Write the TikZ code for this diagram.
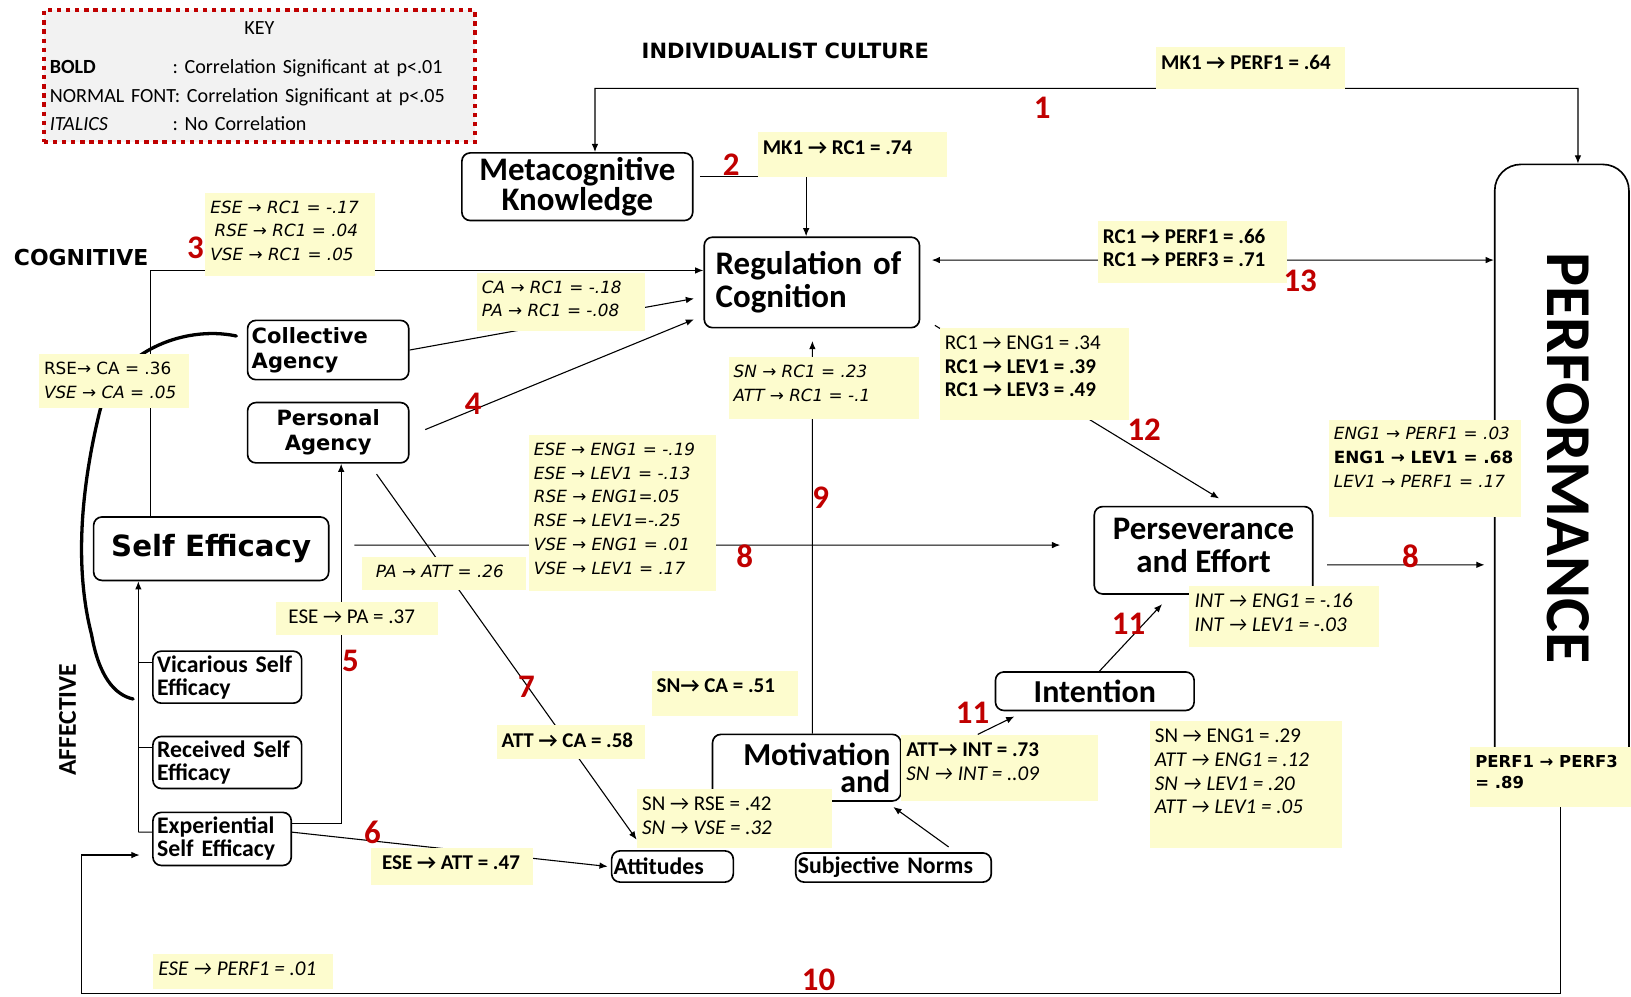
\documentclass[tikz,border=0pt]{standalone}
\usepackage{fontspec}
\setmainfont{Carlito}
\newfontfamily\verd{DejaVu Sans}
\usetikzlibrary{arrows.meta,backgrounds}

\definecolor{yfill}{RGB}{253,252,206}
\definecolor{keyfill}{RGB}{242,242,242}
\definecolor{keyred}{RGB}{192,0,0}

\newcommand{\rarr}{→}
\newcommand{\ytext}[3]{\parbox[t][#2cm][t]{#1cm}{\vspace*{0.1cm}#3}}

\tikzset{
  box/.style={draw, rounded corners=0.16cm, fill=white, line width=0.9pt, inner sep=0.08cm},
  ylab/.style={fill=yfill, anchor=north west, inner xsep=0.1cm, inner ysep=0.05cm},
  vtxt/.style={font=\verd\fontsize{9.2}{13}\selectfont},
  ctxt/.style={font=\fontsize{11.5}{13}\selectfont},
  num/.style={text=keyred, font=\bfseries\fontsize{18}{18}\selectfont},
  line/.style={line width=0.6pt},
  arr/.style={line width=0.6pt, -{Latex[length=4.5pt,width=3.6pt]}},
  arrboth/.style={line width=0.6pt, {Latex[length=4.5pt,width=3.6pt]}-{Latex[length=4.5pt,width=3.6pt]}},
  brace/.style={line width=1.8pt, line cap=round}
}

\begin{document}
\begin{tikzpicture}[x=0.02cm, y=-0.02cm]
\useasboundingbox (0,0) rectangle (1568,958);

% key and headings
\node[draw=keyred, fill=keyfill, line width=2.2pt, dash pattern=on 2.4pt off 2.6pt, anchor=north west,
  minimum width=8.3cm, minimum height=2.54cm, text width=8.06cm, inner xsep=0.12cm, align=left,
  font=\fontsize{11}{15.6}\selectfont] (key) at (40,8)
  {\makebox[8.06cm]{KEY}\\[6pt]
   \makebox[2.36cm][l]{\textbf{BOLD}}:\ Correlation Significant at p<.01\\
   NORMAL FONT: Correlation Significant at p<.05\\
   \makebox[2.36cm][l]{\textit{ITALICS}}:\ No Correlation};
\node[font=\verd\bfseries\fontsize{11.5}{12}\selectfont] (title) at (755,49) {INDIVIDUALIST CULTURE};
\node[font=\verd\bfseries\fontsize{12}{12}\selectfont] (cogn) at (78,248) {COGNITIVE};
\node[rotate=90, font=\bfseries\fontsize{14}{14}\selectfont] (affect) at (65,692) {AFFECTIVE};

% boxes
\node[box, minimum width=4.44cm, minimum height=1.3cm, align=center, font=\bfseries\fontsize{18}{13.7}\selectfont] (mk) at (555,179.5) {Metacognitive\\Knowledge};
\node[box, minimum width=4.14cm, minimum height=1.74cm, text width=3.7cm, inner xsep=0.22cm, align=left, font=\bfseries\fontsize{18}{18.2}\selectfont] (rc) at (780.5,271.5) {Regulation of\\Cognition};
\node[box, minimum width=3.1cm, minimum height=1.14cm, text width=2.94cm, align=left, font=\verd\bfseries\fontsize{11.5}{13.7}\selectfont] (ca) at (315.5,336.5) {Collective\\Agency};
\node[box, minimum width=3.1cm, minimum height=1.16cm, align=center, font=\verd\bfseries\fontsize{11.5}{13.7}\selectfont] (pa) at (315.5,416) {Personal\\Agency};
\node[box, minimum width=4.52cm, minimum height=1.22cm, font=\verd\bfseries\fontsize{16}{16}\selectfont] (se) at (203,527.5) {Self Efficacy};
\node[box, minimum width=2.86cm, minimum height=1cm, text width=2.7cm, align=left, font=\bfseries\fontsize{13}{12.5}\selectfont] (vse) at (218.5,651) {Vicarious Self\\Efficacy};
\node[box, minimum width=2.86cm, minimum height=1cm, text width=2.7cm, align=left, font=\bfseries\fontsize{13}{12.5}\selectfont] (rse) at (218.5,733) {Received Self\\Efficacy};
\node[box, minimum width=2.66cm, minimum height=1.02cm, text width=2.5cm, align=left, font=\bfseries\fontsize{13}{12.5}\selectfont] (ese) at (213.5,806.5) {Experiential\\Self Efficacy};
\node[box, minimum width=2.34cm, minimum height=0.6cm, text width=2.26cm, inner xsep=0.04cm, align=left, font=\bfseries\fontsize{13}{13}\selectfont] (att) at (646.5,833) {Attitudes};
\node[box, minimum width=3.76cm, minimum height=0.56cm, text width=3.68cm, inner xsep=0.04cm, align=left, font=\bfseries\fontsize{13}{13}\selectfont] (sn) at (859,834) {Subjective Norms};
\node[box, minimum width=3.62cm, minimum height=1.28cm, text width=3.22cm, inner xsep=0.2cm, align=right, font=\bfseries\fontsize{17.5}{14.5}\selectfont] (mot) at (775.5,738) {Motivation\\and};
\node[box, minimum width=3.82cm, minimum height=0.74cm, font=\bfseries\fontsize{17.5}{17}\selectfont] (int) at (1052.5,664.5) {Intention};
\node[box, minimum width=4.2cm, minimum height=1.68cm, align=center, font=\bfseries\fontsize{18}{18.2}\selectfont] (pers) at (1157,529) {Perseverance\\and Effort\rule[-0.2cm]{0pt}{0pt}};
\node[box, rounded corners=0.5cm, minimum width=2.58cm, minimum height=12.04cm] (perf) at (1501.5,459) {};
\node[rotate=-90, font=\bfseries\fontsize{35}{35}\selectfont] (perftext) at (1508,440) {PERFORMANCE};

% correlation labels
\node[ylab, ctxt] (lMKP) at (1111,45) {\ytext{3.44}{0.7}{\bfseries MK1 \rarr{} PERF1 = .64}};
\node[ylab, ctxt] (lMKR) at (728,127) {\ytext{3.44}{0.76}{\bfseries MK1 \rarr{} RC1 = .74}};
\node[ylab, vtxt] (lRC3) at (197,185) {\ytext{3.06}{1.5}{\itshape ESE \rarr{} RC1 = -.17\\\hspace*{0.08cm}RSE \rarr{} RC1 = .04\\VSE \rarr{} RC1 = .05}};
\node[ylab, vtxt] (lCAR) at (458,262) {\ytext{3.04}{1.02}{\itshape CA \rarr{} RC1 = -.18\\PA \rarr{} RC1 = -.08}};
\node[ylab, vtxt] (lRCA) at (37,340) {\ytext{2.68}{0.94}{RSE\rarr{} CA = .36\\\textit{VSE \rarr{} CA = .05}}};
\node[ylab, vtxt] (lSNR) at (700,343) {\ytext{3.46}{1.08}{\itshape SN \rarr{} RC1 = .23\\ATT \rarr{} RC1 = -.1}};
\node[ylab, ctxt] (lRCP) at (1055,212) {\ytext{3.44}{1.1}{\bfseries RC1 \rarr{} PERF1 = .66\\RC1 \rarr{} PERF3 = .71}};
\node[ylab, ctxt] (lRCE) at (903,315) {\ytext{3.44}{1.66}{RC1 \rarr{} ENG1 = .34\\\textbf{RC1 \rarr{} LEV1 = .39}\\\textbf{RC1 \rarr{} LEV3 = .49}}};
\node[ylab, vtxt] (lSEE) at (508,418) {\ytext{3.4}{2.9}{\itshape ESE \rarr{} ENG1 = -.19\\ESE \rarr{} LEV1 = -.13\\RSE \rarr{} ENG1=.05\\RSE \rarr{} LEV1=-.25\\VSE \rarr{} ENG1 = .01\\VSE \rarr{} LEV1 = .17}};
\node[ylab, vtxt] (lPAA) at (348,535) {\ytext{2.94}{0.54}{\itshape\hspace*{0.16cm}PA \rarr{} ATT = .26}};
\node[ylab, ctxt] (lESP) at (265,578) {\ytext{2.92}{0.54}{\hspace*{0.14cm}ESE \rarr{} PA = .37}};
\node[ylab, vtxt] (lENP) at (1277,403) {\ytext{3.5}{1.78}{\textit{ENG1 \rarr{} PERF1 = .03}\\\textbf{ENG1 \rarr{} LEV1 = .68}\\\textit{LEV1 \rarr{} PERF1 = .17}}};
\node[ylab, ctxt] (lINT) at (1143,563) {\ytext{3.44}{1.08}{\itshape INT \rarr{} ENG1 = -.16\\INT \rarr{} LEV1 = -.03}};
\node[ylab, ctxt] (lSNC) at (626,645) {\ytext{2.62}{0.76}{\bfseries SN\rarr{} CA = .51}};
\node[ylab, ctxt] (lACA) at (477,697) {\ytext{2.66}{0.54}{\bfseries ATT \rarr{} CA = .58}};
\node[ylab, ctxt] (lAI) at (866,706) {\ytext{3.58}{1.18}{\textbf{ATT\rarr{} INT = .73}\\\textit{SN \rarr{} INT = ..09}}};
\node[ylab, ctxt] (lSNE) at (1105,693) {\ytext{3.5}{2.34}{SN \rarr{} ENG1 = .29\\\textit{ATT \rarr{} ENG1 = .12}\\\textit{SN \rarr{} LEV1 = .20}\\\textit{ATT \rarr{} LEV1 = .05}}};
\node[ylab, ctxt] (lSRV) at (612,758) {\ytext{3.56}{1.04}{SN \rarr{} RSE = .42\\\textit{SN \rarr{} VSE = .32}}};
\node[ylab, ctxt] (lEAT) at (356,815) {\ytext{2.92}{0.6}{\bfseries\hspace*{0.12cm}ESE \rarr{} ATT = .47}};
\node[ylab, font=\verd\fontsize{9}{11.4}\selectfont] (lPP) at (1413,718) {\ytext{3.0}{1.04}{\bfseries PERF1 \rarr{} PERF3\\= .89}};
\node[ylab, ctxt] (lEPF) at (147,917) {\ytext{3.26}{0.56}{\itshape ESE \rarr{} PERF1 = .01}};

% path numbers
\node[num] (n1) at (1002,104) {1};
\node[num] (n2) at (703,158) {2};
\node[num] (n3) at (188,238) {3};
\node[num] (n4) at (455,388) {4};
\node[num] (n5) at (337,635) {5};
\node[num] (n6) at (358,800) {6};
\node[num] (n7) at (506,660) {7};
\node[num] (n8a) at (716,535) {8};
\node[num] (n9) at (789,478) {9};
\node[num] (n10) at (787,942) {10};
\node[num] (n11a) at (935,685) {11};
\node[num] (n11b) at (1085,600) {11};
\node[num] (n12) at (1100,413) {12};
\node[num] (n13) at (1250,270) {13};
\node[num] (n8b) at (1356,535) {8};

% connectors
\begin{pgfonlayer}{background}
\coordinate (topC) at (1517,85);
\coordinate (seIn) at (133,800);
\coordinate (c10) at (1500,955);
\coordinate (c10b) at (78,955);
\coordinate (braceEnd) at (128,672);
\draw[arrboth] ([xshift=0.34cm]mk.north) |- (topC) -- ([xshift=0.31cm]perf.north);
\draw[arr] ([xshift=0.12cm,yshift=0.19cm]mk.east) -| ([xshift=-0.11cm]rc.north);
\draw[arr] (se.north -| 145,0) |- ([yshift=0.23cm]rc.west);
\draw[arr] (ca.east) -- ([xshift=-0.18cm,yshift=-0.31cm]rc.west);
\draw[arr] ([xshift=0.3cm,yshift=0.06cm]pa.east) -- ([xshift=-0.18cm,yshift=-0.71cm]rc.west);
\draw[arr] ([yshift=0.29cm]ese.east) -| ([xshift=0.25cm]pa.south);
\draw[arr] ([yshift=0.13cm]ese.east) -- ([xshift=-0.06cm]att.west);
\draw[arr] ([xshift=0.93cm,yshift=-0.2cm]pa.south) -- ([xshift=-0.69cm,yshift=0.2cm]att.north);
\draw[arr] ([xshift=0.48cm,yshift=0.07cm]se.east) -- ([xshift=-0.64cm,yshift=0.1cm]pers.west);
\draw[arr, shorten >=0.18cm] ([xshift=0.26cm,yshift=-0.28cm]pers.east) -- (perf.west |- 0,543);
\draw[arr] ([xshift=0.11cm]mot.north) -- ([xshift=0.01cm,yshift=-0.24cm]rc.south);
\draw[arr] (lPP.south -| c10) |- (c10b) |- ([xshift=-0.24cm,yshift=-0.31cm]ese.west);
\draw[arr] ([xshift=1.48cm]lAI.north west) -- ([xshift=0.38cm,yshift=-0.1cm]int.south west);
\draw[arr] ([xshift=0.09cm]int.north) -- ([xshift=1.32cm,yshift=-0.18cm]pers.south west);
\draw[arr] ([xshift=0.28cm,yshift=0.06cm]rc.south east) -- ([xshift=0.3cm,yshift=0.14cm]pers.north);
\draw[arrboth] ([xshift=0.22cm,yshift=0.43cm]rc.east) -- (perf.west |- 0,250);
\draw[arr] ([xshift=1.06cm,yshift=0.1cm]sn.north) -- ([xshift=-0.16cm,yshift=-0.1cm]mot.south east);
\draw[arr] (seIn) -- (se.south -| seIn);
\draw[line] ([yshift=0.28cm]vse.west) -| (seIn);
\draw[line] ([yshift=0.28cm]rse.west) -| (seIn);
\draw[line] ([yshift=0.13cm]ese.west) -- (seIn);
\draw[brace] ([xshift=-0.2cm,yshift=0.27cm]ca.west) .. controls (175,312) and (110,340) .. (96,395)
  .. controls (80,460) and (70,540) .. (88,610) .. controls (95,650) and (110,668) .. (braceEnd);
\end{pgfonlayer}
\end{tikzpicture}
\end{document}
